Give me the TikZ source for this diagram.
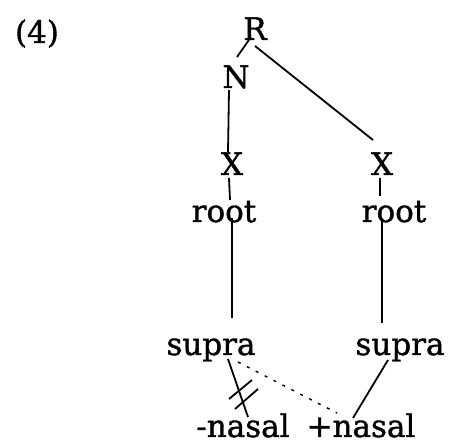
\documentclass[tikz,border=0pt]{standalone}
\usepackage{fontspec}
\setmainfont[FakeBold=1.2]{DejaVu Serif}
\begin{document}
\begin{tikzpicture}[x=1pt,y=-1pt,
  lbl/.style={inner sep=0pt,anchor=base,font=\fontsize{31}{31}\selectfont},
  ln/.style={line width=1.8pt},
  dln/.style={line width=1.4pt,dash pattern=on 3pt off 7pt}]
\useasboundingbox (0,0) rectangle (453,446);
\node[lbl] (ex) at (37,43) {(4)};
\node[lbl] (R) at (255,40) {R};
\node[lbl] (N) at (236,88) {N};
\node[lbl] (X1) at (232,175) {X};
\node[lbl] (X2) at (382,175) {X};
\node[lbl] (r1) at (224,222) {root};
\node[lbl] (r2) at (394,222) {root};
\node[lbl] (s1) at (211,355) {supra};
\node[lbl] (s2) at (400,355) {supra};
\node[lbl] (m) at (243,437) {-nasal};
\node[lbl] (p) at (361,437) {+nasal};
% connectors
\coordinate (Rb) at (251,37);
\coordinate (Nt) at (237,57);
\draw[ln] (Rb) -- (Nt);
\coordinate (Rr) at (255,46);
\coordinate (X2t) at (373,140);
\draw[ln] (Rr) -- (X2t);
\coordinate (Nb) at (229,90);
\coordinate (X1t) at (228,152);
\draw[ln] (Nb) -- (X1t);
\coordinate (X1b) at (229,178);
\coordinate (r1t) at (230,200);
\draw[ln] (X1b) -- (r1t);
\coordinate (r1b) at (232,218);
\coordinate (s1t) at (232,318);
\draw[ln] (r1b) -- (s1t);
\coordinate (X2b) at (380,178);
\coordinate (r2t) at (380,196);
\draw[ln] (X2b) -- (r2t);
\coordinate (r2b) at (382,218);
\coordinate (s2t) at (382,323);
\draw[ln] (r2b) -- (s2t);
\coordinate (s1b) at (228,359);
\coordinate (mt) at (248,417);
\draw[ln] (s1b) -- (mt);
\coordinate (b1a) at (229,399);
\coordinate (b1b) at (252,380);
\coordinate (b2a) at (235,409);
\coordinate (b2b) at (258,389);
\draw[ln] (b1a) -- (b1b);
\draw[ln] (b2a) -- (b2b);
\coordinate (s2b) at (388,360);
\coordinate (pt) at (353,418);
\draw[ln] (s2b) -- (pt);
\coordinate (s1d) at (238,362);
\coordinate (pd) at (337,413);
\draw[dln] (s1d) -- (pd);
\end{tikzpicture}
\end{document}
